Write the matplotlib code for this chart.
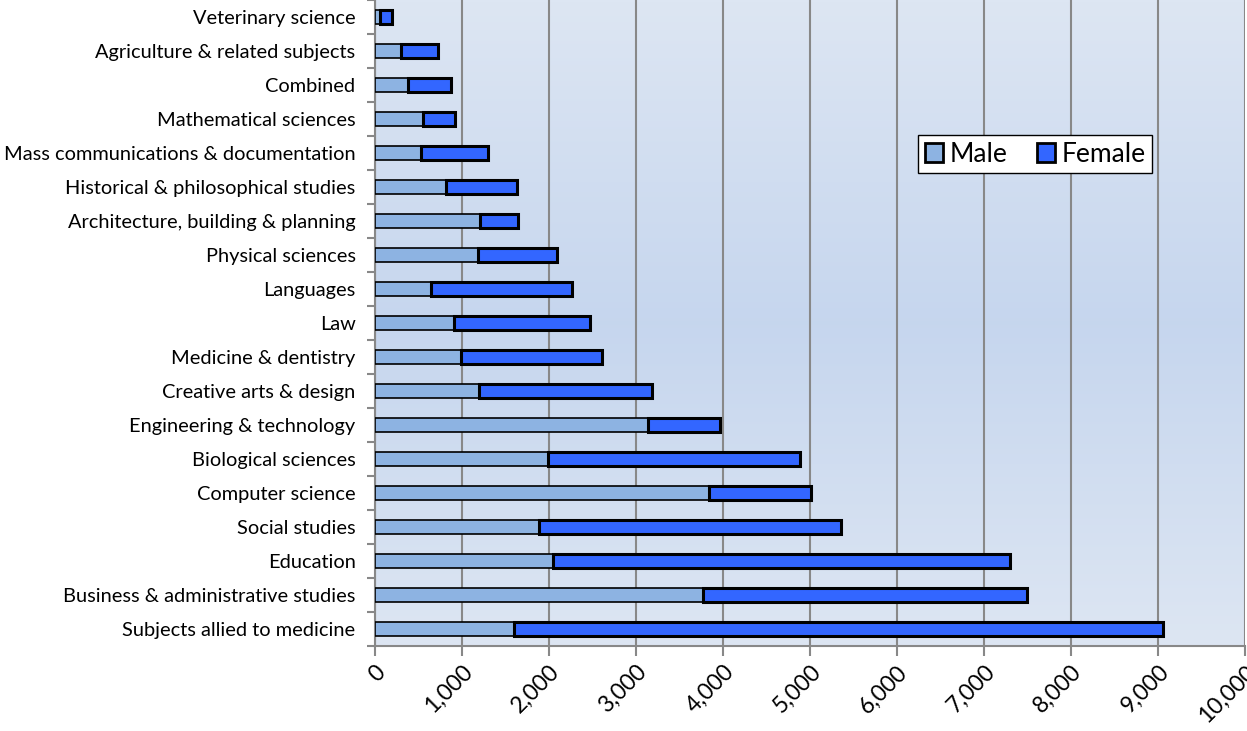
import numpy as np
import matplotlib.pyplot as plt
from matplotlib.ticker import FuncFormatter

plt.rcParams["font.family"] = ["Lato", "DejaVu Sans"]

subjects = [
    "Subjects allied to medicine",
    "Business & administrative studies",
    "Education",
    "Social studies",
    "Computer science",
    "Biological sciences",
    "Engineering & technology",
    "Creative arts & design",
    "Medicine & dentistry",
    "Law",
    "Languages",
    "Physical sciences",
    "Architecture, building & planning",
    "Historical & philosophical studies",
    "Mass communications & documentation",
    "Mathematical sciences",
    "Combined",
    "Agriculture & related subjects",
    "Veterinary science",
]
male = [1600, 3770, 2045, 1885, 3840, 1990, 3140, 1195, 990, 910,
        645, 1185, 1205, 815, 530, 550, 380, 300, 60]
female = [7460, 3725, 5255, 3470, 1170, 2895, 825, 1990, 1620, 1560,
          1620, 905, 440, 815, 770, 370, 495, 425, 135]

fig = plt.figure(figsize=(12.47, 7.31), dpi=100)
ax = fig.add_axes([375 / 1247, 85 / 731, 870 / 1247, 646 / 731])

# background gradient: light at top/bottom, bluer in the middle
t = np.linspace(0, 1, 256)
g = np.abs(t - 0.5) * 2
light = np.array([0.867, 0.902, 0.953])
mid = np.array([0.776, 0.839, 0.933])
cols = mid[None, :] + (light - mid)[None, :] * g[:, None]
ax.imshow(cols[:, None, :], aspect="auto", extent=[0, 10000, -0.5, len(subjects) - 0.5],
          origin="lower", zorder=0)

y = np.arange(len(subjects))
ax.barh(y, male, height=0.42, color="#8db3e2", edgecolor="black", linewidth=1.2,
        label="Male", zorder=3)
ax.barh(y, female, left=male, height=0.42, color="#3366ff", edgecolor="black",
        linewidth=2.2, label="Female", zorder=3)

ax.set_xlim(0, 10000)
ax.set_ylim(-0.5, len(subjects) - 0.5)
ax.set_xticks(np.arange(0, 10001, 1000))
ax.xaxis.set_major_formatter(FuncFormatter(lambda v, p: f"{int(v):,}"))
ax.set_yticks(np.arange(-0.5, len(subjects), 1), minor=False)
ax.set_yticklabels([])
ax.set_yticks(y, minor=True)
ax.set_yticklabels(subjects, minor=True)
ax.tick_params(axis="y", which="minor", length=0, labelsize=14.4, pad=14)
ax.tick_params(axis="y", which="major", length=6, color="#888888", width=1.5)
ax.tick_params(axis="x", length=7, color="#888888", width=1.5, labelsize=16.5, pad=4)
for lbl in ax.get_xticklabels():
    lbl.set_rotation(45)
    lbl.set_ha("right")
    lbl.set_va("top")
    lbl.set_rotation_mode("anchor")

ax.grid(axis="x", color="#888888", linewidth=1.5, zorder=1)
for s in ["top", "right"]:
    ax.spines[s].set_visible(False)
for s in ["left", "bottom"]:
    ax.spines[s].set_color("#888888")
    ax.spines[s].set_linewidth(1.5)

leg = ax.legend(loc="upper left", bbox_to_anchor=(543 / 870, 1 - 135 / 646), ncol=2,
                fontsize=19, frameon=True, fancybox=False, edgecolor="black",
                framealpha=1, borderaxespad=0,
                handlelength=0.7, handleheight=0.7, handletextpad=0.25,
                columnspacing=1.1, borderpad=0.25)
leg.get_frame().set_linewidth(1.0)
for h in leg.legend_handles:
    h.set_linewidth(2.0)

fig.savefig("out.png", dpi=100)
